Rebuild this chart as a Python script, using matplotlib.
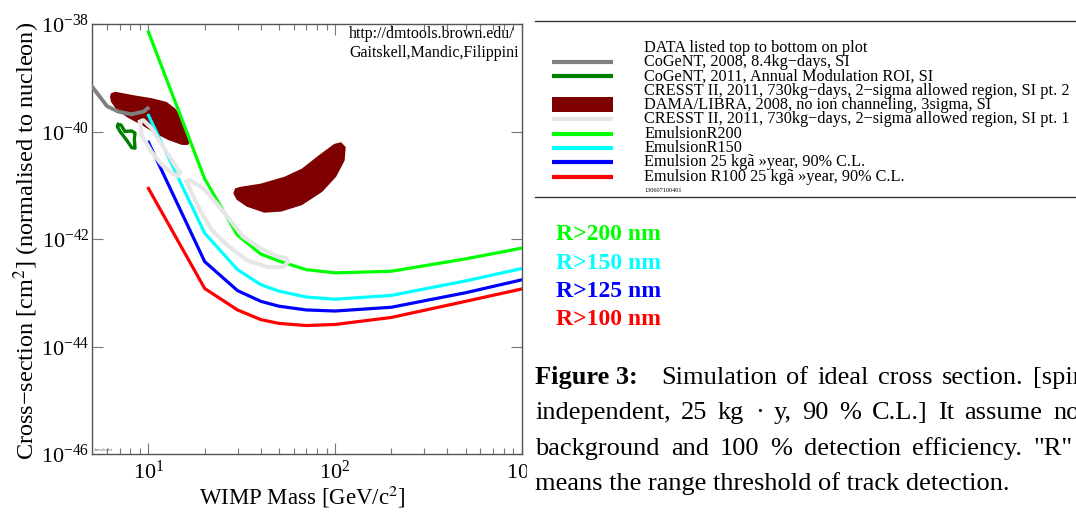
import numpy as np
import matplotlib
matplotlib.use('Agg')
import matplotlib.pyplot as plt
from matplotlib.patches import Rectangle
from matplotlib.ticker import FixedLocator, NullLocator

plt.rcParams['font.family'] = ['Liberation Serif', 'DejaVu Serif']
plt.rcParams['mathtext.fontset'] = 'stix'

# Emulsion limits: WIMP mass [GeV] and log10(cross-section [cm2])
mass = [10, 20, 30, 40, 50, 70, 100, 200, 500, 1000]
r200_log = [-38.15, -40.88, -41.93, -42.28, -42.41, -42.57, -42.63, -42.60, -42.37, -42.17]
r150_log = [-39.70, -41.89, -42.57, -42.85, -42.97, -43.08, -43.12, -43.05, -42.78, -42.55]
r125_log = [-40.20, -42.42, -42.96, -43.16, -43.25, -43.32, -43.34, -43.27, -43.00, -42.76]
r100_log = [-41.06, -42.92, -43.32, -43.50, -43.57, -43.61, -43.59, -43.46, -43.16, -42.93]

# CoGeNT 2008
cogent08_mass = [5.0, 6.0, 6.9, 8.1, 9.4, 9.9]
cogent08_log = [-39.17, -39.53, -39.63, -39.68, -39.63, -39.57]

# CoGeNT 2011 ROI (closed contour)
cogent11_mass = [6.89, 7.13, 7.48, 8.13, 8.47, 8.40, 8.47, 8.13, 7.64, 7.04, 6.81, 6.89]
cogent11_log = [-39.87, -39.88, -40.00, -39.99, -40.03, -40.13, -40.31, -40.30, -40.16, -40.00, -39.91, -39.87]

# DAMA/LIBRA regions
dama1_mass = [6.30, 6.62, 8.47, 10.4, 12.5, 13.9, 15.1, 16.0, 16.9, 16.3, 15.1, 12.8, 10.8, 9.2, 7.8, 6.76, 6.30, 6.22]
dama1_log = [-39.29, -39.26, -39.33, -39.38, -39.45, -39.57, -39.75, -39.94, -40.16, -40.25, -40.25, -40.16,
             -40.03, -39.88, -39.75, -39.60, -39.45, -39.35]
dama2_mass = [29.1, 31.0, 40.0, 53.7, 66.4, 82.0, 99.1, 107.8, 114, 112.5, 101.4, 85.5, 66.4, 51.5, 41.7, 33.7, 29.7, 28.5]
dama2_log = [-41.06, -41.03, -40.97, -40.84, -40.69, -40.44, -40.23, -40.20, -40.29, -40.54, -40.84, -41.12,
             -41.37, -41.49, -41.51, -41.40, -41.27, -41.15]

# CRESST II allowed regions (closed contours)
cresst1_mass = [9.02, 9.20, 10.4, 11.8, 13.3, 14.4, 14.8, 14.4, 13.0, 11.5, 10.4, 9.38, 9.02]
cresst1_log = [-39.82, -40.07, -40.38, -40.62, -40.77, -40.83, -40.75, -40.72, -40.47, -40.19, -39.94, -39.79, -39.82]
cresst2_mass = [16.0, 17.4, 19.3, 21.8, 26.3, 33.6, 43.0, 52.8, 56.2, 55.0, 48.6, 39.6, 32.2, 27.4, 23.2, 19.7, 16.7, 16.0]
cresst2_log = [-40.93, -41.21, -41.52, -41.83, -42.11, -42.39, -42.52, -42.52, -42.42, -42.36, -42.32, -42.17,
               -41.96, -41.65, -41.34, -41.06, -40.90, -40.93]

c_green = '#00ff00'
c_cyan = '#00ffff'
c_blue = '#0000ff'
c_red = '#ff0000'
c_gray = '#808080'
c_dkgreen = '#008000'
c_dama = '#7f0000'
c_light = '#e6e6e6'

legend_rows = ["DATA listed top to bottom on plot",
               "CoGeNT, 2008, 8.4kg\u2212days, SI",
               "CoGeNT, 2011, Annual Modulation ROI, SI",
               "CRESST II, 2011, 730kg\u2212days, 2\u2212sigma allowed region, SI pt. 2",
               "DAMA/LIBRA, 2008, no ion channeling, 3sigma, SI",
               "CRESST II, 2011, 730kg\u2212days, 2\u2212sigma allowed region, SI pt. 1",
               "EmulsionR200",
               "EmulsionR150",
               "Emulsion 25 kg\u00e3 \u00bbyear, 90% C.L.",
               "Emulsion R100 25 kg\u00e3 \u00bbyear, 90% C.L."]
legend_marks = [None, c_gray, c_dkgreen, None, 'box', c_light, c_green, c_cyan, c_blue, c_red]

range_labels = ["R>200 nm", "R>150 nm", "R>125 nm", "R>100 nm"]
range_colors = [c_green, c_cyan, c_blue, c_red]

caption_lines = [
    ["Figure 3:", "Simulation", "of", "ideal", "cross", "section.", "[spin"],
    ["independent,", "25", "kg", "\u00b7", "y,", "90", "%", "C.L.]", "It", "assume", "no"],
    ["background", "and", "100", "%", "detection", "efficiency.", '"R"'],
    ["means", "the", "range", "threshold", "of", "track", "detection."],
]
# left edge of the justified run and left edge of its last word (pixels); None = not justified
caption_start = [661, 535, 535, 535]
caption_last = [1033, 1053, 1033, None]

W, H = 1076, 521
fig = plt.figure(figsize=(W / 100, H / 100), dpi=100)
ax = fig.add_axes([92.3 / W, 1 - 454 / H, (521.7 - 92.3) / W, (454 - 24) / H])
ax.set_xscale('log')
ax.set_yscale('log')
ax.set_xlim(5, 1000)
ax.set_ylim(1e-46, 1e-38)

ax.fill(dama1_mass, np.power(10.0, dama1_log), color=c_dama, lw=0, zorder=1)
ax.fill(dama2_mass, np.power(10.0, dama2_log), color=c_dama, lw=0, zorder=1)

for ylog, col in zip([r200_log, r150_log, r125_log, r100_log], range_colors):
    ax.plot(mass, np.power(10.0, ylog), color=col, lw=2.3, zorder=2)

ax.plot(cresst1_mass, np.power(10.0, cresst1_log), color=c_light, lw=3.0, zorder=3)
ax.plot(cresst2_mass, np.power(10.0, cresst2_log), color=c_light, lw=3.0, zorder=3)
ax.plot(cogent08_mass, np.power(10.0, cogent08_log), color=c_gray, lw=2.8, zorder=4)
ax.plot(cogent11_mass, np.power(10.0, cogent11_log), color=c_dkgreen, lw=2.4, zorder=4)

ax.set_yticks([1e-46, 1e-44, 1e-42, 1e-40, 1e-38])
ax.yaxis.set_minor_locator(NullLocator())
ax.set_xticks([10, 100, 1000])
ax.xaxis.set_minor_locator(FixedLocator([6, 7, 8, 9, 20, 30, 40, 50, 60, 70, 80, 90,
                                         200, 300, 400, 500, 600, 700, 800, 900]))
ax.tick_params(which='both', direction='in', top=True, right=True, color='#777777', width=0.8)
ax.tick_params(which='major', length=8)
ax.tick_params(which='minor', length=4)
ax.tick_params(axis='y', labelsize=16, pad=2)
ax.tick_params(axis='x', labelsize=16, pad=5)
for sp in ax.spines.values():
    sp.set_color('#555555')
    sp.set_linewidth(1.0)

ax.text(0.598, 0.976, "http://dmtools.brown.edu/", transform=ax.transAxes, fontsize=11.5,
        ha='left', va='center', clip_on=True)
ax.text(0.598, 0.933, "Gaitskell,Mandic,Filippini", transform=ax.transAxes, fontsize=11.5,
        ha='left', va='center', clip_on=True)
ax.text(0.004, 0.006, "dmtools plot", transform=ax.transAxes, fontsize=2.5, color='#555555')

fig.text(302 / W, 1 - 497 / H, "WIMP Mass [GeV/c$^2$]", fontsize=16.5, ha='center', va='center')
fig.text(27 / W, 1 - 241 / H, "Cross\u2212section [cm$^2$] (normalised to nucleon)", fontsize=17.5,
         rotation=90, ha='center', va='center')

# right-hand panel in pixel coordinates
ov = fig.add_axes([0, 0, 1, 1])
ov.set_xlim(0, W)
ov.set_ylim(H, 0)
ov.axis('off')
ov.add_patch(Rectangle((527, 0), W - 527, H, color='white', zorder=0))

ov.plot([535, W], [20.7, 20.7], color='#333333', lw=1.0)
ov.plot([535, W], [197.3, 197.3], color='#333333', lw=1.0)

for i, (txt, mk) in enumerate(zip(legend_rows, legend_marks)):
    y = 47.5 + 14.35 * i
    ov.text(644, y, txt, fontsize=11.7, ha='left', va='center')
    if mk == 'box':
        ov.add_patch(Rectangle((552, y - 7.5), 61, 15, color=c_dama, lw=0))
    elif mk is not None:
        ov.plot([552, 613], [y, y], color=mk, lw=3.0, solid_capstyle='butt')
ov.text(644, 191, "130607100401", fontsize=4.5, ha='left', va='center')

for i, (txt, col) in enumerate(zip(range_labels, range_colors)):
    ov.text(556, 235 + 28.3 * i, txt, color=col, fontsize=17, fontweight='bold', ha='left', va='center')

# caption, justified word by word like the typeset page
rend = fig.canvas.get_renderer()
for i, words in enumerate(caption_lines):
    yb = 384 + 35.3 * i
    if words[0].startswith("Figure"):
        ov.text(535, yb, words[0], fontsize=19, fontweight='bold', ha='left', va='baseline')
        words = words[1:]
    if caption_last[i] is None:
        ov.text(caption_start[i], yb, " ".join(words), fontsize=19, ha='left', va='baseline')
        continue
    arts = [ov.text(0, yb, w, fontsize=19, ha='left', va='baseline') for w in words]
    widths = [a.get_window_extent(renderer=rend).width for a in arts]
    gap = (caption_last[i] - caption_start[i] - sum(widths[:-1])) / (len(words) - 1)
    x = caption_start[i]
    for a, w in zip(arts, widths):
        a.set_x(x)
        x += w + gap

fig.savefig('out.png', dpi=100)
